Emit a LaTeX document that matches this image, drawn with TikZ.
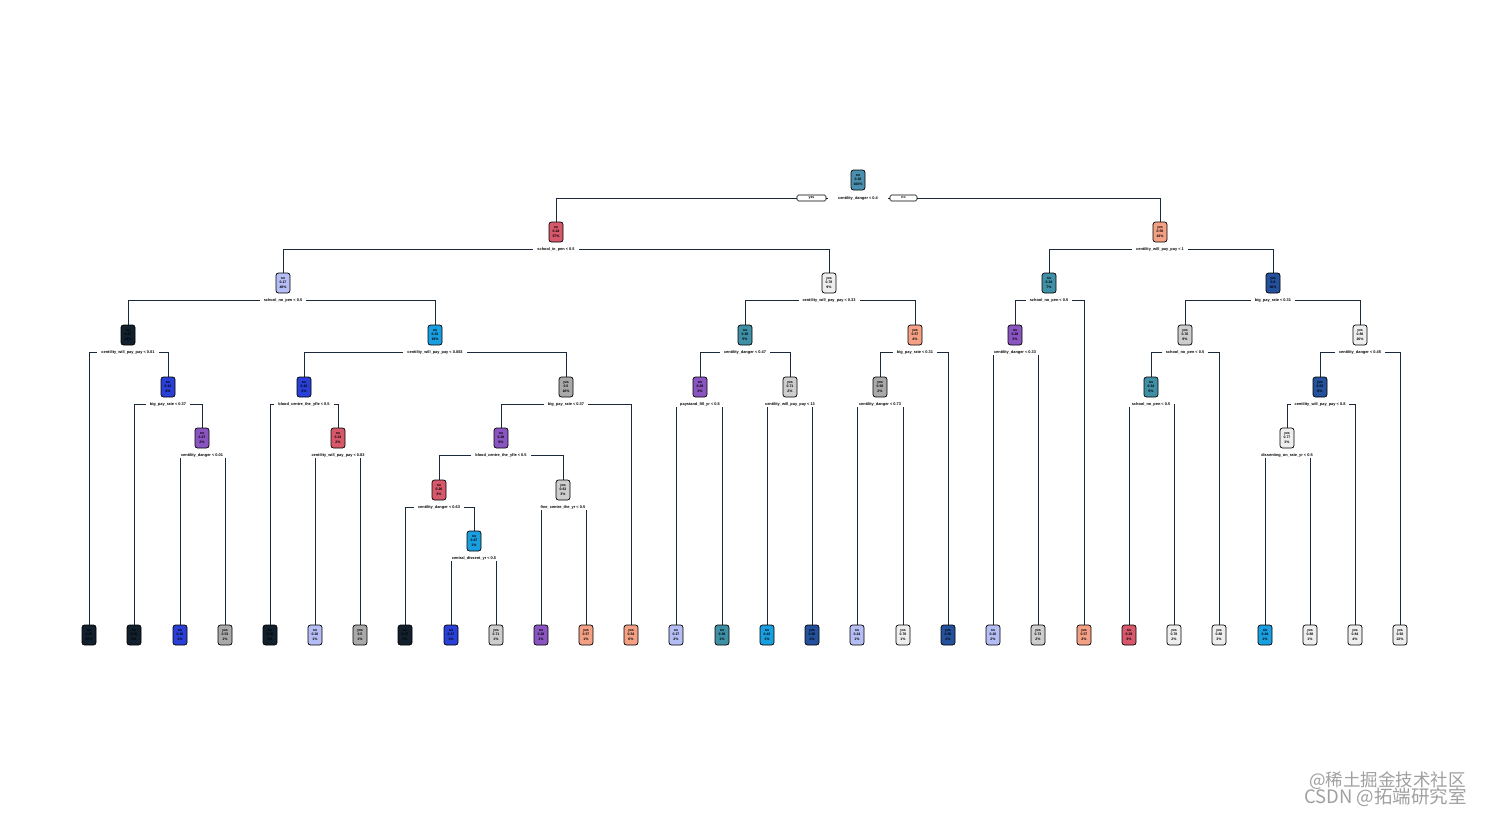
\documentclass[tikz,border=0pt]{standalone}
\usepackage{fontspec}
\setmainfont{Liberation Sans}
\newfontfamily\cjk{Noto Sans CJK SC}
\definecolor{cTeal}{HTML}{4A8FAD}
\definecolor{cTealB}{HTML}{3F8FA5}
\definecolor{cRed}{HTML}{D6586A}
\definecolor{cSalmon}{HTML}{F4A084}
\definecolor{cLav}{HTML}{B5BDF5}
\definecolor{cWhite}{HTML}{EEEEEE}
\definecolor{cDBlue}{HTML}{24519C}
\definecolor{cBlack}{HTML}{12202E}
\definecolor{cCyan}{HTML}{199FE0}
\definecolor{cPurple}{HTML}{8A55C0}
\definecolor{cLGray}{HTML}{CDCDCD}
\definecolor{cBlue}{HTML}{2A3FD5}
\definecolor{cGray}{HTML}{A9A9A9}
\definecolor{cLine}{HTML}{1A2A3A}
\definecolor{cMark}{HTML}{A0A0A0}
\pgfdeclarelayer{bg}
\pgfsetlayers{bg,main}
\tikzset{
  nd/.style={draw=black, line width=0.7pt, rounded corners=2.5pt, minimum width=14pt, minimum height=20pt, inner sep=0.5pt, align=center, font=\fontsize{3.5}{4.6}\selectfont\bfseries},
  sp/.style={fill=white, inner xsep=4pt, inner ysep=1pt, font=\fontsize{3.9}{4}\selectfont\bfseries},
  yn/.style={draw=black, line width=0.6pt, rounded corners=1.5pt, minimum width=29pt, minimum height=6pt, inner sep=0pt, font=\fontsize{3.5}{4}\selectfont\bfseries},
  ln/.style={draw=cLine, line width=0.9pt},
}
\newcommand\tn[7]{\node[nd, fill=#4] (#1) at (#2,#3) {#5\\#6\\#7};}
\newcommand\spl[2]{\node[sp] (#1s) at ([yshift=-17.5pt]#1.center) {#2};}
\newcommand\cn[3]{\draw[ln] (#2.north) |- (#1s.center) -| (#3.north);}
\begin{document}
\begin{tikzpicture}[x=1pt,y=-1pt]
\useasboundingbox (0,0) rectangle (1490,816);
\begin{pgfonlayer}{bg}
\fill[white] (0,0) rectangle (1490,816);
\end{pgfonlayer}
% internal nodes
\tn{r}{858}{180}{cTeal}{no}{0.38}{100\%}
\tn{n2}{556}{232}{cRed}{no}{0.24}{57\%}
\tn{n3}{1160}{232}{cSalmon}{yes}{0.58}{43\%}
\tn{n4}{283}{283}{cLav}{no}{0.17}{48\%}
\tn{n5}{829}{283}{cWhite}{yes}{0.78}{9\%}
\tn{n6}{1049}{283}{cTealB}{no}{0.34}{7\%}
\tn{n7}{1273}{283}{cDBlue}{yes}{0.6}{36\%}
\tn{n8}{128}{335}{cBlack}{no}{0.07}{29\%}
\tn{n9}{435}{335}{cCyan}{no}{0.33}{19\%}
\tn{n10}{745}{335}{cTealB}{no}{0.38}{5\%}
\tn{n11}{915}{335}{cSalmon}{yes}{0.57}{4\%}
\tn{n12}{1015}{335}{cPurple}{no}{0.28}{3\%}
\tn{n13}{1185}{335}{cLGray}{yes}{0.76}{9\%}
\tn{n14}{1360}{335}{cWhite}{yes}{0.88}{26\%}
\tn{n15}{168}{387}{cBlue}{no}{0.13}{4\%}
\tn{n16}{304}{387}{cBlue}{no}{0.18}{3\%}
\tn{n17}{566}{387}{cGray}{yes}{0.5}{16\%}
\tn{n18}{700}{387}{cPurple}{no}{0.29}{3\%}
\tn{n19}{790}{387}{cLGray}{yes}{0.71}{2\%}
\tn{n20}{880}{387}{cGray}{yes}{0.58}{2\%}
\tn{n21}{1151}{387}{cTealB}{no}{0.34}{5\%}
\tn{n22}{1320}{387}{cDBlue}{yes}{0.53}{8\%}
\tn{n23}{202}{438}{cPurple}{no}{0.27}{2\%}
\tn{n24}{338}{438}{cRed}{no}{0.23}{2\%}
\tn{n25}{501}{438}{cPurple}{no}{0.28}{9\%}
\tn{n26}{1287}{438}{cWhite}{yes}{0.77}{3\%}
\tn{n27}{439}{490}{cRed}{no}{0.26}{3\%}
\tn{n28}{563}{490}{cLGray}{yes}{0.63}{3\%}
\tn{n29}{474}{541}{cCyan}{no}{0.47}{1\%}
% leaves
\tn{l1}{89}{635}{cBlack}{no}{0.05}{25\%}
\tn{l2}{134}{635}{cBlack}{no}{0.06}{2\%}
\tn{l3}{180}{635}{cBlue}{no}{0.16}{1\%}
\tn{l4}{225}{635}{cGray}{yes}{0.53}{1\%}
\tn{l5}{270}{635}{cBlack}{no}{0.08}{1\%}
\tn{l6}{315}{635}{cLav}{no}{0.20}{1\%}
\tn{l7}{360}{635}{cGray}{yes}{0.5}{1\%}
\tn{l8}{405}{635}{cBlack}{no}{0.07}{2\%}
\tn{l9}{451}{635}{cBlue}{no}{0.17}{1\%}
\tn{l10}{496}{635}{cLGray}{yes}{0.71}{1\%}
\tn{l11}{541}{635}{cPurple}{no}{0.28}{1\%}
\tn{l12}{586}{635}{cSalmon}{yes}{0.57}{1\%}
\tn{l13}{631}{635}{cSalmon}{yes}{0.54}{6\%}
\tn{l14}{676}{635}{cLav}{no}{0.27}{2\%}
\tn{l15}{722}{635}{cTealB}{no}{0.38}{1\%}
\tn{l16}{767}{635}{cCyan}{no}{0.43}{1\%}
\tn{l17}{812}{635}{cDBlue}{yes}{0.56}{1\%}
\tn{l18}{857}{635}{cLav}{no}{0.24}{1\%}
\tn{l19}{903}{635}{cWhite}{yes}{0.78}{1\%}
\tn{l20}{948}{635}{cDBlue}{yes}{0.56}{2\%}
\tn{l21}{993}{635}{cLav}{no}{0.20}{2\%}
\tn{l22}{1038}{635}{cLGray}{yes}{0.73}{2\%}
\tn{l23}{1084}{635}{cSalmon}{yes}{0.57}{2\%}
\tn{l24}{1129}{635}{cRed}{no}{0.29}{3\%}
\tn{l25}{1174}{635}{cWhite}{yes}{0.78}{2\%}
\tn{l26}{1219}{635}{cWhite}{yes}{0.88}{3\%}
\tn{l27}{1265}{635}{cCyan}{no}{0.44}{1\%}
\tn{l28}{1310}{635}{cWhite}{yes}{0.88}{1\%}
\tn{l29}{1355}{635}{cWhite}{yes}{0.84}{4\%}
\tn{l30}{1400}{635}{cWhite}{yes}{0.92}{22\%}
% split labels
\node[sp, inner xsep=3pt] (rs) at ([yshift=-18pt]r.center) {centility\_danger < 0.4};
\node[yn] (yes) at (811.5,198) {yes};
\node[yn, minimum width=27pt] (no) at (903.5,198) {no};
\spl{n2}{school\_in\_pen < 0.5}
\spl{n3}{centility\_will\_pay\_pay < 1}
\spl{n4}{school\_no\_pen < 0.5}
\spl{n5}{centility\_will\_pay\_pay < 0.33}
\spl{n6}{school\_no\_pen < 0.5}
\spl{n7}{big\_pay\_rate < 0.31}
\spl{n8}{centility\_will\_pay\_pay < 0.01}
\spl{n9}{centility\_will\_pay\_pay < 0.083}
\spl{n10}{centility\_danger < 0.47}
\spl{n11}{big\_pay\_rate < 0.31}
\spl{n12}{centility\_danger < 0.33}
\spl{n13}{school\_no\_pen < 0.5}
\spl{n14}{centility\_danger < 0.45}
\spl{n15}{big\_pay\_rate < 0.37}
\spl{n16}{blood\_centre\_the\_yfle < 0.5}
\spl{n17}{big\_pay\_rate < 0.37}
\spl{n18}{paystand\_fill\_yr < 0.5}
\spl{n19}{centility\_will\_pay\_pay < 13}
\spl{n20}{centility\_danger < 0.73}
\spl{n21}{school\_no\_pen < 0.5}
\spl{n22}{centility\_will\_pay\_pay < 0.8}
\spl{n23}{centility\_danger < 0.01}
\spl{n24}{centility\_will\_pay\_pay < 0.83}
\spl{n25}{blood\_centre\_the\_yfle < 0.5}
\spl{n26}{dissenting\_on\_rate\_yr < 0.5}
\spl{n27}{centility\_danger < 0.63}
\spl{n28}{fine\_centre\_the\_yr < 0.5}
\spl{n29}{central\_dissent\_yr < 0.5}
% connectors (behind the labels)
\begin{pgfonlayer}{bg}
\draw[ln] (n2.north) |- (yes.west);
\draw[ln] (n3.north) |- (no.east);
\draw[ln] (yes.east) -- ++(2,0);
\draw[ln] (no.west) -- ++(-2,0);
\cn{n2}{n4}{n5}
\cn{n3}{n6}{n7}
\cn{n4}{n8}{n9}
\cn{n5}{n10}{n11}
\cn{n6}{n12}{l23}
\cn{n7}{n13}{n14}
\cn{n8}{l1}{n15}
\cn{n9}{n16}{n17}
\cn{n10}{n18}{n19}
\cn{n11}{n20}{l20}
\cn{n12}{l21}{l22}
\cn{n13}{n21}{l26}
\cn{n14}{n22}{l30}
\cn{n15}{l2}{n23}
\cn{n16}{l5}{n24}
\cn{n17}{n25}{l13}
\cn{n18}{l14}{l15}
\cn{n19}{l16}{l17}
\cn{n20}{l18}{l19}
\cn{n21}{l24}{l25}
\cn{n22}{n26}{l29}
\cn{n23}{l3}{l4}
\cn{n24}{l6}{l7}
\cn{n25}{n27}{n28}
\cn{n26}{l27}{l28}
\cn{n27}{l8}{n29}
\cn{n28}{l11}{l12}
\cn{n29}{l9}{l10}
\end{pgfonlayer}
% watermark
\node[anchor=west, text=cMark, font=\cjk\fontsize{17.5}{18}\selectfont, inner sep=0pt] (wm1) at (1309,781) {@稀土掘金技术社区};
\node[anchor=west, text=cMark, font=\cjk\fontsize{18.5}{19}\selectfont, inner sep=0pt] (wm2) at (1304,797) {CSDN @拓端研究室};
\end{tikzpicture}
\end{document}
